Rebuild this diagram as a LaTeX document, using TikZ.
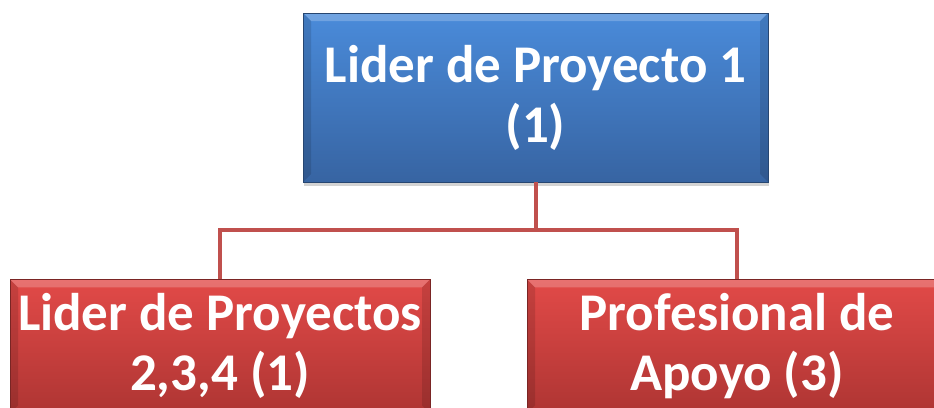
\documentclass[tikz,border=0pt]{standalone}
\usepackage{fontspec}
\setmainfont{Carlito}
\usetikzlibrary{positioning,shadows,calc}

\definecolor{azulA}{HTML}{4A8BDA}
\definecolor{azulB}{HTML}{3764A2}
\definecolor{rojoA}{HTML}{E24A48}
\definecolor{rojoB}{HTML}{AE3533}
\definecolor{linea}{HTML}{C0504D}

\tikzset{
  caja/.style={rectangle, draw=#1!70!black, line width=0.8pt, align=center,
    text=white, font=\bfseries\fontsize{53}{60}\selectfont, inner sep=0pt,
    % bisel claro arriba y oscuro a los lados
    path picture={
      \fill[white, opacity=0.22] (path picture bounding box.north west)
        -- (path picture bounding box.north east)
        -- ([shift={(-8pt,-8pt)}]path picture bounding box.north east)
        -- ([shift={(8pt,-8pt)}]path picture bounding box.north west) -- cycle;
      \fill[black, opacity=0.12] (path picture bounding box.north east)
        -- (path picture bounding box.south east)
        -- ([shift={(-8pt,8pt)}]path picture bounding box.south east)
        -- ([shift={(-8pt,-8pt)}]path picture bounding box.north east) -- cycle;
      \fill[black, opacity=0.12] (path picture bounding box.north west)
        -- (path picture bounding box.south west)
        -- ([shift={(8pt,8pt)}]path picture bounding box.south west)
        -- ([shift={(8pt,-8pt)}]path picture bounding box.north west) -- cycle;
    }},
  jefe/.style={caja=azulB, top color=azulA, bottom color=azulB,
    minimum width=465pt, minimum height=169pt,
    drop shadow={shadow xshift=1pt, shadow yshift=-4pt, opacity=0.35}},
  apoyo/.style={caja=rojoB, top color=rojoA, bottom color=rojoB,
    minimum width=420pt, minimum height=134pt, anchor=north},
  rama/.style={draw=linea, line width=4pt}
}

\begin{document}
\begin{tikzpicture}[x=1pt,y=1pt]
\useasboundingbox (0,0) rectangle (934,-407);
\node[jefe] (lider1) at (535.5,-97.5) {Lider de Proyecto 1\\(1)};
\node[apoyo] (lider2) at (220,-279) {Lider de Proyectos\\2,3,4 (1)};
\node[apoyo] (prof) at (737,-279) {Profesional de\\Apoyo (3)};

\coordinate (nudo) at ($(lider1.south)+(0,-48)$);
\path[rama] (lider1.south) -- (nudo)
  (lider2.north) |- (nudo) -| (prof.north);
\end{tikzpicture}
\end{document}
